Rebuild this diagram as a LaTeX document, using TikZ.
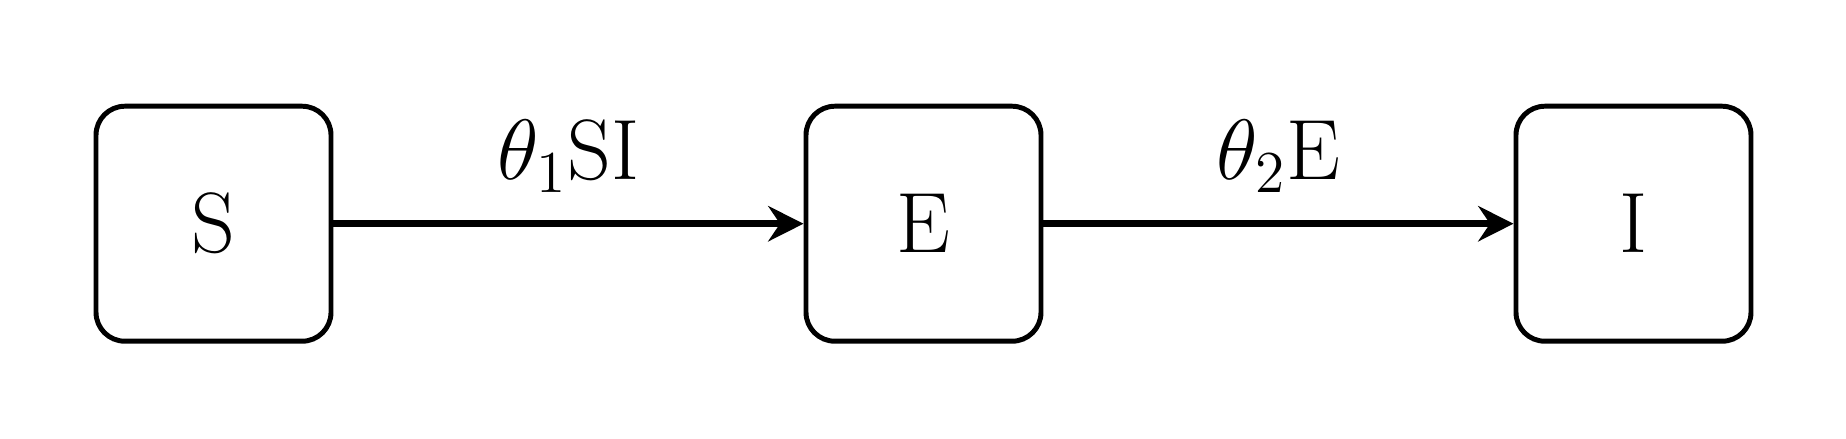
\documentclass[tikz,border=0pt]{standalone}
\usepackage{amsmath}
\usepackage{tikz}
\usetikzlibrary{positioning,arrows.meta}

\begin{document}
\begin{tikzpicture}[
		comp/.style={draw, line width=1.2pt, rounded corners=7pt, minimum size=2cm, font=\huge},
		flow/.style={line width=1.7pt, -{Stealth[length=3mm,width=3mm,inset=1mm]}}
	]
		\useasboundingbox (-1.817,-1.826) rectangle (13.893,1.904);
		\node[comp] (s) at (0,0) {S};
		\node[comp, right=4cm of s] (e) {E};
		\node[comp, right=4cm of e] (i) {I};
		
		\draw[flow] (s) -- node[above=0.12cm, font=\huge] (fse) {$\theta_1\mathrm{SI}$} (e);
		\draw[flow] (e) -- node[above=0.12cm, font=\huge] (fei) {$\theta_2\mathrm{E}$} (i);
	\end{tikzpicture}
\end{document}
